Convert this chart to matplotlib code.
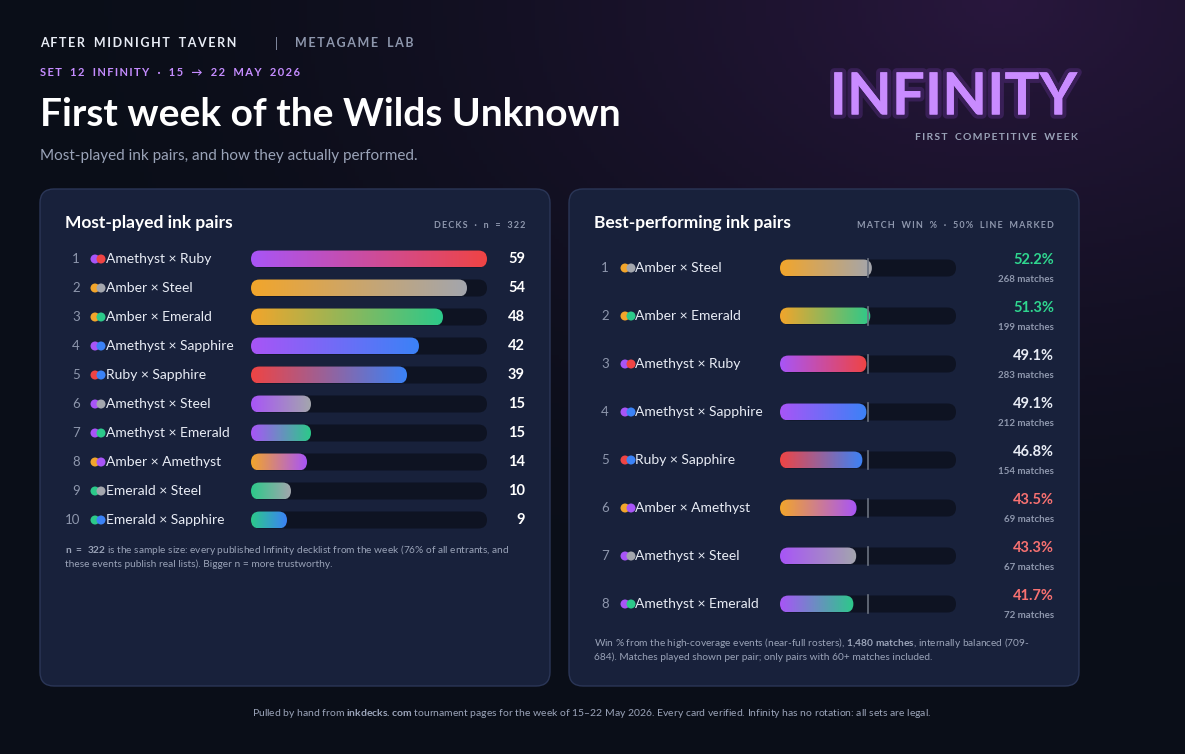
import numpy as np
import matplotlib
matplotlib.use('Agg')
from matplotlib import pyplot as plt
from matplotlib.patches import FancyBboxPatch, Circle
from matplotlib.colors import LinearSegmentedColormap
import matplotlib.patheffects as pe

plt.rcParams['font.family'] = ['Lato', 'DejaVu Sans']
plt.rcParams['mathtext.fontset'] = 'custom'
plt.rcParams['mathtext.bf'] = 'Lato:bold'
plt.rcParams['mathtext.rm'] = 'Lato'

INK = {'Amethyst': '#a855f7', 'Ruby': '#ef4444', 'Amber': '#f2a52b',
       'Steel': '#a3a6ad', 'Emerald': '#2cc98a', 'Sapphire': '#3b82f6'}

played_pairs = [('Amethyst', 'Ruby'), ('Amber', 'Steel'), ('Amber', 'Emerald'),
                ('Amethyst', 'Sapphire'), ('Ruby', 'Sapphire'), ('Amethyst', 'Steel'),
                ('Amethyst', 'Emerald'), ('Amber', 'Amethyst'), ('Emerald', 'Steel'),
                ('Emerald', 'Sapphire')]
played_decks = [59, 54, 48, 42, 39, 15, 15, 14, 10, 9]

best_pairs = [('Amber', 'Steel'), ('Amber', 'Emerald'), ('Amethyst', 'Ruby'),
              ('Amethyst', 'Sapphire'), ('Ruby', 'Sapphire'), ('Amber', 'Amethyst'),
              ('Amethyst', 'Steel'), ('Amethyst', 'Emerald')]
best_winpct = [52.2, 51.3, 49.1, 49.1, 46.8, 43.5, 43.3, 41.7]
best_matches = [268, 199, 283, 212, 154, 69, 67, 72]

W, H = 1185, 754
fig = plt.figure(figsize=(W / 100, H / 100), dpi=100)
ax = fig.add_axes([0, 0, 1, 1])
ax.axis('off')

# background: dark navy with purple glow top-right
yy, xx = np.mgrid[0:H:4, 0:W:4]
d = np.hypot((xx - 1000) / 900., (yy - 0) / 600.)
glow = np.clip(1 - d, 0, 1) ** 1.5
base = np.array([0.043, 0.055, 0.098])
purp = np.array([0.16, 0.09, 0.24])
bg = base[None, None, :] * (1 - glow[..., None]) + purp[None, None, :] * glow[..., None]
ax.imshow(bg, extent=[0, W, H, 0], zorder=0, aspect='auto')
ax.set_xlim(0, W)
ax.set_ylim(H, 0)


def spaced(s):
    return '\u2009'.join(s).replace('\u2009 \u2009', '   ')


def txt(x, y, s, size, color, weight='normal', ha='left', va='center', **kw):
    return ax.text(x, y, s, fontsize=size, color=color, fontweight=weight,
                   ha=ha, va=va, zorder=5, **kw)


def pill(x0, x1, yc, h, c1, c2=None, z=3):
    r = h / 2
    patch = FancyBboxPatch((x0, yc - h / 2), max(x1 - x0, h), h,
                           boxstyle='round,pad=0,rounding_size=%s' % r,
                           linewidth=0, facecolor=c1 if c2 is None else 'none', zorder=z)
    ax.add_patch(patch)
    if c2 is not None:
        cm = LinearSegmentedColormap.from_list('g', [c1, c2])
        im = ax.imshow(np.linspace(0, 1, 256)[None, :], cmap=cm, aspect='auto',
                       extent=[x0, max(x1, x0 + h), yc + h / 2, yc - h / 2], zorder=z)
        im.set_clip_path(patch)


def dots(x, y, a, b):
    ax.add_patch(Circle((x, y), 4.5, color=INK[a], zorder=4, lw=0))
    ax.add_patch(Circle((x + 6, y), 4.5, color=INK[b], zorder=4, lw=0))


# header
txt(40, 43, spaced('AFTER MIDNIGHT TAVERN'), 9, '#e8ecf5', 'bold')
txt(275, 43, '|', 9, '#8e97ad')
txt(295, 43, spaced('METAGAME LAB'), 9, '#8e97ad', 'bold')
txt(40, 72, spaced('SET 12 INFINITY · 15 → 22 MAY 2026'), 8, '#c58cff', 'bold')
txt(40, 114, 'First week of the Wilds Unknown', 28, '#ffffff', 'bold')
txt(40, 156, 'Most-played ink pairs, and how they actually performed.', 11, '#9aa3b8')
t = txt(1078, 98, 'INFINITY', 42, '#c98bff', 'bold', ha='right')
t.set_path_effects([pe.withStroke(linewidth=6, foreground='#a855f7', alpha=0.18), pe.Normal()])
txt(1078, 138, spaced('FIRST COMPETITIVE WEEK'), 7.5, '#9aa3b8', 'bold', ha='right')

# panels
for x0 in (40, 569):
    ax.add_patch(FancyBboxPatch((x0, 189), 510, 497, boxstyle='round,pad=0,rounding_size=14',
                                facecolor='#18213b', edgecolor='#2b3657', lw=1, zorder=1))

# left panel
txt(65, 223, 'Most-played ink pairs', 12.5, '#ffffff', 'bold')
txt(525, 225, spaced('DECKS · n = 322'), 6.5, '#8e97ad', 'bold', ha='right')
tx0, tx1 = 251, 487
vmax = max(played_decks)
for i, ((a, b), v) in enumerate(zip(played_pairs, played_decks)):
    y = 259 + i * 29
    txt(80, y, str(i + 1), 9.5, '#8e97ad', ha='right')
    dots(95, y, a, b)
    txt(106, y, '%s × %s' % (a, b), 10, '#e8ecf5')
    pill(tx0, tx1, y, 17, '#0e1322', z=2)
    pill(tx0, tx0 + (tx1 - tx0) * v / vmax, y, 17, INK[a], INK[b])
    txt(525, y, str(v), 10.5, '#ffffff', 'bold', ha='right')
ax.text(65, 550, r'$\bf{n\ =\ 322}$ is the sample size: every published Infinity decklist from the week (76% of all entrants, and',
        fontsize=7.3, color='#9aa3b8', va='center', zorder=5)
txt(65, 564, 'these events publish real lists). Bigger n = more trustworthy.', 7.3, '#9aa3b8')

# right panel
txt(594, 223, 'Best-performing ink pairs', 12.5, '#ffffff', 'bold')
txt(1054, 225, spaced('MATCH WIN % · 50% LINE MARKED'), 6.5, '#8e97ad', 'bold', ha='right')
rx0, rx1 = 780, 956
for i, ((a, b), p, m) in enumerate(zip(best_pairs, best_winpct, best_matches)):
    y = 268 + i * 48
    txt(609, y, str(i + 1), 9.5, '#8e97ad', ha='right')
    dots(625, y, a, b)
    txt(635, y, '%s × %s' % (a, b), 10, '#e8ecf5')
    pill(rx0, rx1, y, 17, '#0e1322', z=2)
    pill(rx0, rx0 + (rx1 - rx0) * p / 100, y, 17, INK[a], INK[b])
    mid = rx0 + (rx1 - rx0) * 0.5
    ax.plot([mid, mid], [y - 9, y + 9], color='#6b7280', lw=1.2, zorder=4)
    col = '#2fd68f' if p >= 50 else ('#f87171' if p < 45 else '#e8ecf5')
    txt(1054, y - 8, '%.1f%%' % p, 10.5, col, 'bold', ha='right')
    txt(1054, y + 11, '%d matches' % m, 7, '#8e97ad', 'bold', ha='right')
ax.text(594, 643, r'Win % from the high-coverage events (near-full rosters), $\bf{1{,}480\ matches}$, internally balanced (709-',
        fontsize=7.3, color='#9aa3b8', va='center', zorder=5)
txt(594, 657, '684). Matches played shown per pair; only pairs with 60+ matches included.', 7.3, '#9aa3b8')

# footer
ax.text(592, 713, r'Pulled by hand from $\bf{inkdecks.com}$ tournament pages for the week of 15–22 May 2026. Every card verified. Infinity has no rotation: all sets are legal.',
        fontsize=7.5, color='#9aa3b8', ha='center', va='center', zorder=5)

fig.savefig('out.png', dpi=100, facecolor='#0b0e19')
